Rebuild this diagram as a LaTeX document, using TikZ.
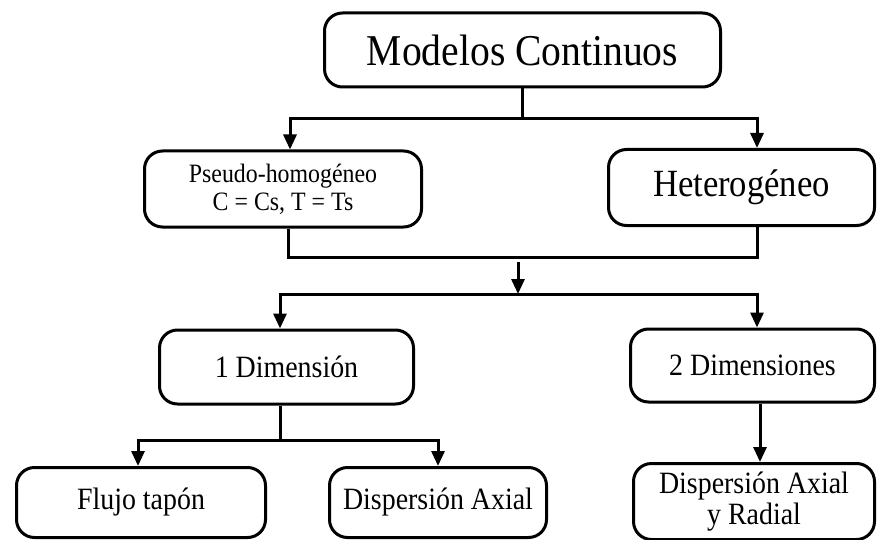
\documentclass[tikz,border=0pt]{standalone}
\usepackage{fontspec}
\setmainfont[FakeStretch=0.9]{Liberation Serif}
\usetikzlibrary{arrows.meta,positioning,calc}
\tikzset{
  modelbox/.style={
    draw=black, rounded corners=18pt, fill=white, line width=3pt,
    align=center, inner sep=2pt, font=\fontsize{31}{31}\selectfont
  },
  flow/.style={-{Triangle[length=15pt,width=13pt]}, line width=3pt},
  link/.style={line width=3pt}
}

\begin{document}
\begin{tikzpicture}[x=1pt,y=-1pt]
  \useasboundingbox (0,0) rectangle (877,540);

  % Top level
  \node[modelbox, minimum width=396pt, minimum height=74pt,
        font=\fontsize{44}{46}\selectfont] (mc) at (522.5,50) {Modelos Continuos};

  % Phase model
  \node[modelbox, minimum width=277pt, minimum height=76pt,
        font=\fontsize{26.5}{28}\selectfont] (pseudo) at (283,189)
    {Pseudo-homogéneo\\C = Cs, T = Ts};
  \node[modelbox, minimum width=266pt, minimum height=76pt,
        font=\fontsize{38.5}{40}\selectfont] (hetero) at (741.5,187.5) {Heterogéneo};

  % Dimensions
  \node[modelbox, minimum width=254pt, minimum height=74pt] (dim1) at (286.5,367) {1 Dimensión};
  \node[modelbox, minimum width=244pt, minimum height=73pt] (dim2) at (752.5,365.5) {2 Dimensiones};

  % Flow patterns
  \node[modelbox, minimum width=249pt, minimum height=70pt] (flujo) at (141,502.5) {Flujo tapón};
  \node[modelbox, minimum width=217pt, minimum height=70pt] (axial) at (438,502.5) {Dispersión Axial};
  \node[modelbox, minimum width=241pt, minimum height=76pt] (axrad) at (754,501.5)
    {Dispersión Axial\\y Radial};

  \coordinate (merge) at (518,262);
  \coordinate (split) at (518,294);

  % Modelos Continuos to phase models
  \draw[flow] (mc.south) -- ++(0,30) -| ([xshift=7pt]pseudo.north);
  \draw[flow] (mc.south) -- ++(0,30) -| ([xshift=15.5pt]hetero.north);
  % Both phase models join
  \draw[link] ([xshift=5pt]pseudo.south) -- ++(0,29) -| ([xshift=15.5pt]hetero.south);
  \draw[flow] (merge) -- (split);
  % Split into dimensions
  \draw[flow] (split) -| ([xshift=-6.5pt]dim1.north);
  \draw[flow] (split) -| ([xshift=4.5pt]dim2.north);
  % 1 Dimension to flow patterns
  \draw[flow] ([xshift=-6.5pt]dim1.south) -- ++(0,35) -| ([xshift=-3pt]flujo.north);
  \draw[flow] ([xshift=-6.5pt]dim1.south) -- ++(0,35) -| (axial.north);
  % 2 Dimensions
  \draw[flow] ([xshift=7.5pt]dim2.south) -- ([xshift=6pt]axrad.north);
\end{tikzpicture}
\end{document}
